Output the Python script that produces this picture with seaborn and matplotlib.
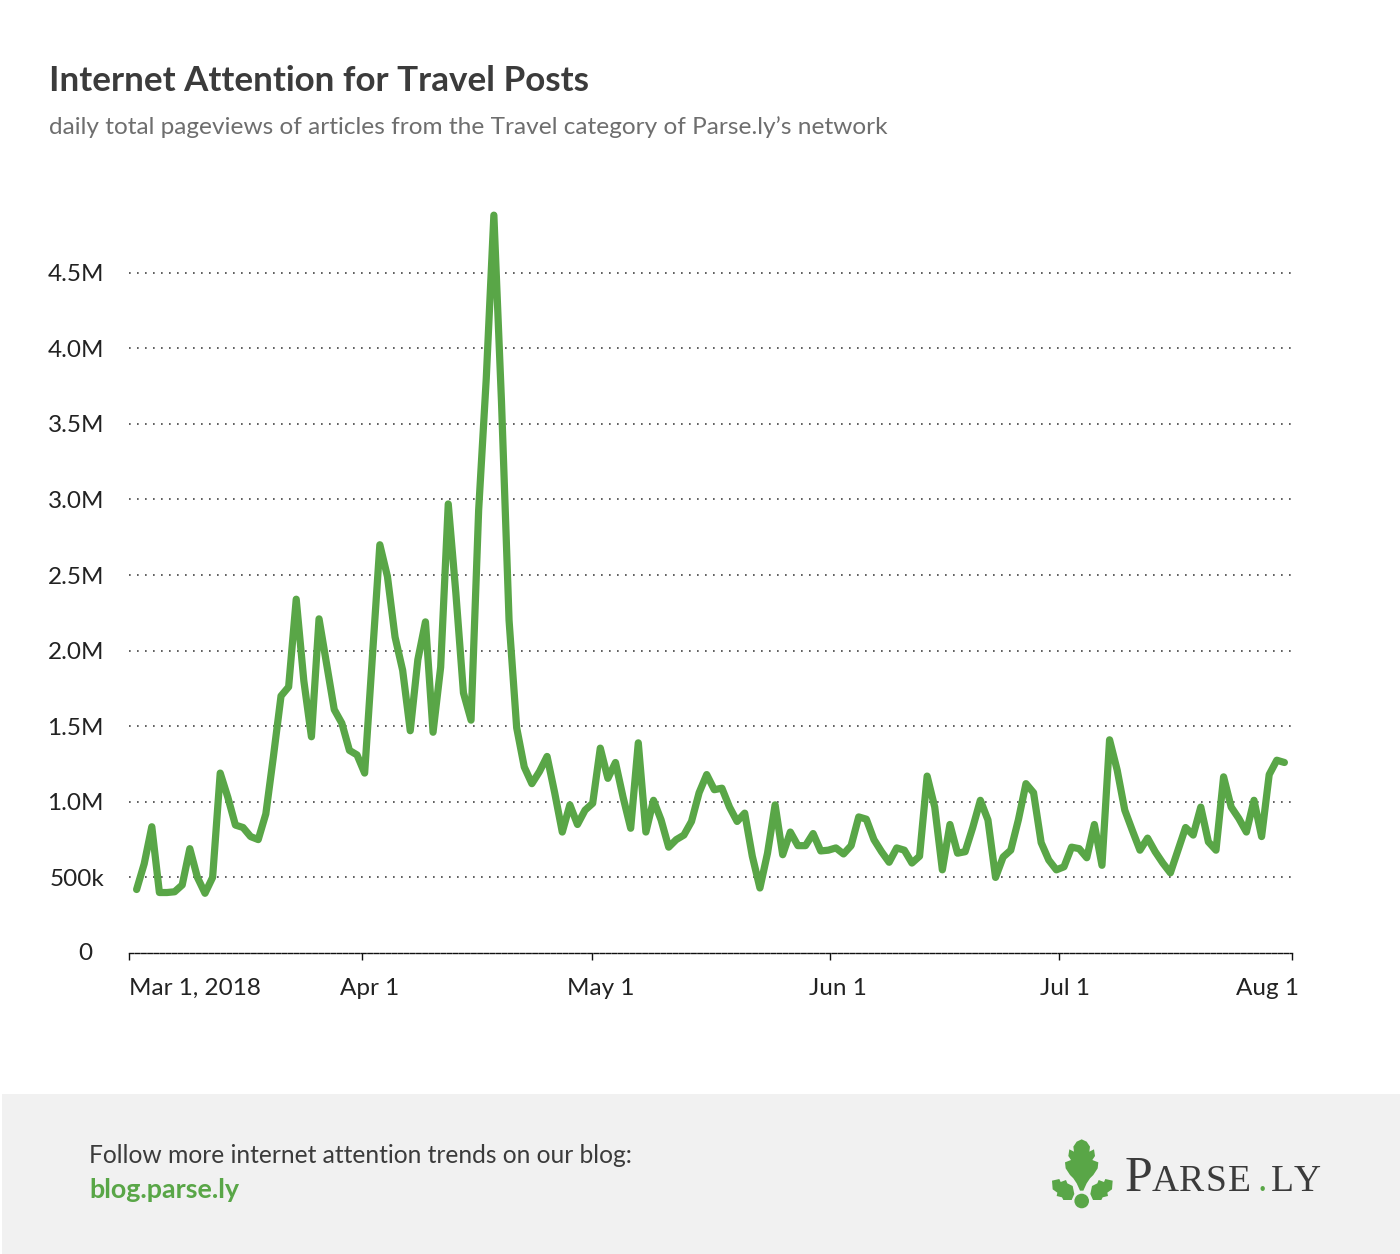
import pandas as pd
import matplotlib.pyplot as plt
import matplotlib.transforms as mtrans
from matplotlib.patches import Polygon, Circle, Rectangle
import seaborn as sns

# Daily pageviews in millions (Mar 2 onwards)
pageviews = [
    0.42, 0.59, 0.835, 0.40, 0.40, 0.405, 0.45, 0.69, 0.50, 0.395,
    0.50, 1.19, 1.03, 0.846, 0.83, 0.77, 0.75, 0.92, 1.30, 1.70,
    1.76, 2.34, 1.80, 1.43, 2.21, 1.91, 1.61, 1.52, 1.34, 1.31,
    1.19, 1.94, 2.70, 2.49, 2.09, 1.87, 1.47, 1.94, 2.19, 1.46,
    1.89, 2.97, 2.38, 1.72, 1.54, 2.93, 3.80, 4.88, 3.65, 2.20,
    1.49, 1.23, 1.12, 1.20, 1.30, 1.06, 0.80, 0.98, 0.85, 0.945,
    0.99, 1.355, 1.155, 1.26, 1.03, 0.825, 1.39, 0.80, 1.01, 0.88,
    0.70, 0.75, 0.78, 0.87, 1.06, 1.18, 1.08, 1.09, 0.965, 0.87,
    0.925, 0.64, 0.43, 0.66, 0.98, 0.65, 0.80, 0.71, 0.71, 0.79,
    0.675, 0.68, 0.695, 0.655, 0.71, 0.90, 0.885, 0.75, 0.67, 0.60,
    0.695, 0.68, 0.595, 0.64, 1.17, 0.965, 0.55, 0.85, 0.66, 0.67,
    0.83, 1.01, 0.88, 0.50, 0.635, 0.68, 0.88, 1.12, 1.06, 0.73,
    0.615, 0.55, 0.57, 0.70, 0.69, 0.63, 0.85, 0.58, 1.41, 1.21,
    0.945, 0.81, 0.68, 0.76, 0.67, 0.595, 0.53, 0.68, 0.83, 0.78,
    0.965, 0.735, 0.68, 1.165, 0.965, 0.89, 0.80, 1.01, 0.77, 1.18,
    1.275, 1.26,
]
dates = pd.date_range('2018-03-02', periods=len(pageviews), freq='D')

y_ticks = [0.5, 1.0, 1.5, 2.0, 2.5, 3.0, 3.5, 4.0, 4.5]
y_labels = ['500k', '1.0M', '1.5M', '2.0M', '2.5M', '3.0M', '3.5M', '4.0M', '4.5M']
# the original's ticks sit a few hours off midnight
x_ticks = pd.to_datetime(['2018-03-01 00:00', '2018-03-31 14:30', '2018-04-30 21:00',
                          '2018-06-01 06:00', '2018-07-01 09:30', '2018-08-01 00:00'])
x_labels = ['Mar 1, 2018', 'Apr 1', 'May 1', 'Jun 1', 'Jul 1', 'Aug 1']
x_label_shift = [66, 8, 9, 8, 6, -24]  # px, labels sit off-centre in the original

GREEN = '#59a647'
DARK = '#3b3b3b'
FONT = 'Lato'

sns.set_theme(style='white')
plt.rcParams['font.family'] = [FONT, 'DejaVu Sans']

df = pd.DataFrame({'date': dates, 'views': pageviews})

fig = plt.figure(figsize=(14, 12.54), dpi=100)

# Overlay in pixel coordinates for the header, footer and logo
bg = fig.add_axes([0, 0, 1, 1])
bg.set_xlim(0, 1400)
bg.set_ylim(1254, 0)
bg.axis('off')

ax = fig.add_axes([129 / 1400, (1254 - 953) / 1254, 1163 / 1400, 753 / 1254])
ax.patch.set_alpha(0)
sns.lineplot(data=df, x='date', y='views', ax=ax, color=GREEN, linewidth=5.2,
             estimator=None, solid_joinstyle='round', solid_capstyle='round')
ax.set_xlim(x_ticks[0], x_ticks[-1])
ax.set_ylim(0, 753 / 151.2)
ax.set_xlabel('')
ax.set_ylabel('')

for s in ['top', 'left', 'right']:
    ax.spines[s].set_visible(False)
ax.spines['bottom'].set_color('#111111')
ax.spines['bottom'].set_linewidth(1.0)
ax.spines['bottom'].set_linestyle((0, (3.2, 1.2)))

ax.set_yticks([0] + y_ticks)
ax.set_yticklabels(['0'] + y_labels, fontsize=17.5, color='#222222')
ax.tick_params(axis='y', length=0, pad=18)
for v in y_ticks:
    ax.axhline(v, color='#444444', linewidth=1.2, linestyle=(0, (1, 3.8)), zorder=0)

ax.set_xticks(x_ticks)
ax.set_xticklabels(x_labels, fontsize=17.5, color='#222222')
ax.tick_params(axis='x', length=5, width=1.0, color='#111111', pad=13, bottom=True)
for lab, dx in zip(ax.get_xticklabels(), x_label_shift):
    lab.set_transform(lab.get_transform() + mtrans.ScaledTranslation(dx / 100, 0, fig.dpi_scale_trans))
zero_lab = ax.get_yticklabels()[0]
zero_lab.set_transform(zero_lab.get_transform() + mtrans.ScaledTranslation(-12 / 100, 2 / 100, fig.dpi_scale_trans))

# Header
bg.text(49, 91, 'Internet Attention for Travel Posts', fontsize=25.2, fontweight='bold', color=DARK)
bg.text(49, 134, 'daily total pageviews of articles from the Travel category of Parse.ly\u2019s network',
        fontsize=17.55, color='#6e6e6e')

# Footer
bg.add_patch(Rectangle((2, 1094), 1398, 160, color='#f1f1f1', lw=0))
bg.text(89, 1163, 'Follow more internet attention trends on our blog:', fontsize=17.7, color=DARK)
bg.text(89, 1198, 'blog.parse.ly', fontsize=19.4, fontweight='bold', color=GREEN)

def zp(pts):
    return [(1030 + x / 3, 1120 + y / 3) for x, y in pts]

leaf = [(155, 58), (170, 65), (180, 80), (178, 95), (192, 88), (195, 108), (187, 120),
        (205, 127), (203, 145), (190, 165), (180, 175), (170, 190), (160, 212), (150, 212),
        (140, 190), (130, 175), (120, 165), (107, 145), (105, 127), (123, 120), (115, 108),
        (118, 88), (132, 95), (130, 80), (140, 65)]
side = [(66, 182), (88, 177), (92, 186), (108, 180), (112, 190), (128, 198), (133, 222),
        (125, 240), (100, 240), (96, 232), (80, 228), (82, 218), (68, 208)]
bg.add_patch(Polygon(zp(leaf), color=GREEN, lw=0))
bg.add_patch(Polygon(zp(side), color=GREEN, lw=0))
bg.add_patch(Polygon(zp([(314 - x, y) for x, y in side]), color=GREEN, lw=0))
bg.add_patch(Circle((1081.7, 1201), 7.3, color=GREEN, lw=0))

logo = [('P', 1125, 36, DARK), ('A', 1152, 27, DARK), ('R', 1179, 27, DARK), ('S', 1205, 27, DARK),
        ('E', 1228, 27, DARK), ('.', 1257, 27, GREEN), ('L', 1271, 27, DARK), ('Y', 1294, 27, DARK)]
for ch, x, size, col in logo:
    bg.text(x, 1191, ch, fontsize=size, color=col, family='Liberation Serif')

fig.savefig('out.png', dpi=100)
plt.close(fig)
